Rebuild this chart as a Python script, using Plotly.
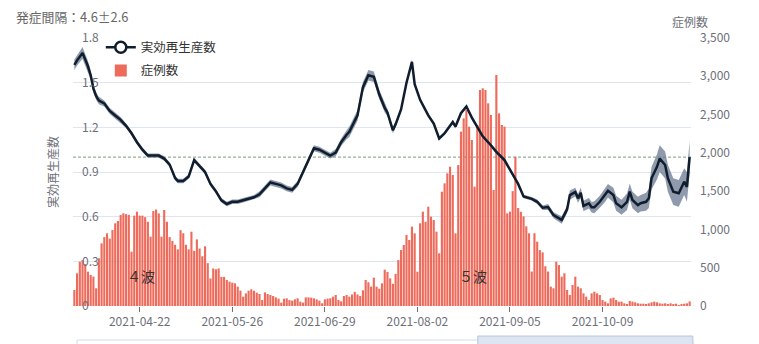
import pandas as pd
import plotly.graph_objects as go

start_date = "2021-03-29"
tick_dates = ["2021-04-22", "2021-05-26", "2021-06-29", "2021-08-02", "2021-09-05", "2021-10-09"]

cases = [
    209, 427, 579, 601, 548, 448, 405, 383, 231, 623, 818, 900, 949, 880, 992, 1080, 1110, 1188, 1210, 1200,
    1190, 709, 1180, 1232, 1180, 1180, 1160, 1100, 905, 1240, 1260, 1210, 905, 1254, 1100, 900, 850, 800, 740, 990,
    950, 800, 740, 970, 720, 870, 750, 650, 780, 560, 360, 490, 480, 490, 380, 380, 340,
    318, 305, 296, 253, 200, 122, 165, 200, 218, 200, 174, 157, 78, 178, 157, 144, 131, 113, 96, 44,
    96, 100, 78, 70, 87, 100, 57, 44, 113, 113, 109, 100, 87, 70, 35, 87, 96, 100, 122, 144,
    78, 61, 131, 144, 122, 150, 185, 150, 130, 205, 340, 310, 253, 370, 253, 225, 296, 475, 445, 361,
    290, 420, 600,
    731, 797, 927, 862, 1036, 949, 448, 1080, 1232, 1100, 1297, 1167, 1123, 971, 688, 1493, 1602, 1733, 1819, 1711,
    949, 1841, 2277, 2451, 2560, 2342, 2168, 1558, 2364, 2821, 2843, 2821, 2647, 2495, 1515, 3017, 2516, 2364, 2342, 1210,
    1232, 1500, 1950, 1280, 1230, 1170, 1040, 950, 450, 950, 840, 730, 700, 520, 450, 253,
    231, 579, 535, 383, 427, 209, 144, 274, 383, 253, 231, 165, 122, 78, 165, 187, 165, 144, 78, 57,
    35, 100, 109, 78, 57, 57, 35, 22, 65, 57, 48, 35, 30, 30, 22, 35, 48, 57, 48, 35,
    30, 35, 22, 35, 22, 30, 13, 22, 30, 35, 60,
]

rt_day = [0, 1, 3, 5, 6, 7, 8, 9, 11, 13, 15, 17, 19, 21, 23, 25, 27, 29, 31, 33,
          35, 37, 38, 40, 42, 44, 46, 48, 50, 52, 54, 56, 58, 60, 62, 64, 66, 68, 70, 72,
          74, 76, 78, 80, 82, 84, 86, 88, 90, 92, 94, 96, 98, 100, 101, 104, 106, 108, 110, 112,
          114, 115, 117, 118, 120, 122, 124, 125, 126, 127, 130, 132, 134, 136, 139, 140, 142, 144, 146, 148,
          150, 153, 155, 158, 160, 163, 165, 168, 170, 172, 174, 176, 179, 181, 182, 184, 185, 186, 187, 189,
          190, 191, 193, 195, 196, 198, 199, 201, 203, 204, 205, 207, 208, 210, 211, 212, 214, 215, 217, 218,
          220, 222, 224, 225, 226]
rt_value = [1.62, 1.65, 1.70, 1.61, 1.55, 1.46, 1.41, 1.38, 1.36, 1.31, 1.28, 1.25, 1.21, 1.16, 1.10, 1.05, 1.01, 1.01, 1.01, 0.99,
            0.95, 0.86, 0.84, 0.84, 0.87, 0.98, 0.94, 0.90, 0.82, 0.77, 0.71, 0.685, 0.70, 0.70, 0.71, 0.72, 0.73, 0.75, 0.79, 0.83,
            0.82, 0.81, 0.79, 0.78, 0.82, 0.90, 0.99, 1.06, 1.05, 1.03, 1.01, 1.03, 1.10, 1.15, 1.17, 1.28, 1.47, 1.55, 1.54, 1.42,
            1.33, 1.30, 1.18, 1.22, 1.32, 1.50, 1.64, 1.49, 1.44, 1.385, 1.28, 1.225, 1.125, 1.16, 1.235, 1.205, 1.295, 1.34, 1.265, 1.205,
            1.14, 1.08, 1.035, 0.98, 0.915, 0.82, 0.735, 0.72, 0.70, 0.66, 0.665, 0.61, 0.578, 0.65, 0.745, 0.765, 0.723, 0.761, 0.672, 0.69,
            0.663, 0.663, 0.70, 0.745, 0.774, 0.745, 0.69, 0.663, 0.70, 0.768, 0.712, 0.678, 0.69, 0.70, 0.723, 0.858, 0.935, 0.99, 0.947, 0.858,
            0.768, 0.757, 0.835, 0.80, 1.00]
rt_half = [0.035, 0.035, 0.04, 0.035, 0.03, 0.03, 0.025, 0.025, 0.02, 0.02, 0.02, 0.02, 0.015, 0.015, 0.015, 0.015, 0.015, 0.015, 0.015, 0.015,
           0.015, 0.015, 0.015, 0.015, 0.015, 0.015, 0.015, 0.015, 0.015, 0.015, 0.015, 0.015, 0.015, 0.015, 0.015, 0.015, 0.015, 0.02, 0.02, 0.02,
           0.02, 0.02, 0.02, 0.02, 0.02, 0.02, 0.02, 0.02, 0.02, 0.02, 0.02, 0.025, 0.025, 0.03, 0.035, 0.035, 0.035, 0.035, 0.035, 0.03,
           0.03, 0.025, 0.02, 0.02, 0.015, 0.015, 0.015, 0.015, 0.015, 0.012, 0.012, 0.012, 0.012, 0.012, 0.012, 0.012, 0.012, 0.012, 0.012, 0.012,
           0.012, 0.012, 0.012, 0.012, 0.012, 0.012, 0.012, 0.012, 0.015, 0.015, 0.02, 0.02, 0.025, 0.025, 0.03, 0.03, 0.03, 0.035, 0.035, 0.035,
           0.035, 0.04, 0.04, 0.045, 0.045, 0.05, 0.05, 0.05, 0.055, 0.055, 0.055, 0.055, 0.055, 0.06, 0.065, 0.075, 0.085, 0.09, 0.09, 0.09,
           0.09, 0.09, 0.09, 0.1, 0.11]

dates = pd.date_range(start_date, periods=len(cases), freq="D")
rt_dates = [pd.Timestamp(start_date) + pd.Timedelta(days=d) for d in rt_day]
rt_upper = [v + h for v, h in zip(rt_value, rt_half)]
rt_lower = [v - h for v, h in zip(rt_value, rt_half)]

FONT = "Noto Sans CJK JP"
GRAY = "#6e7079"
BAR = "#ee6b5b"
LINE = "#101d2c"
BAND = "rgba(105,122,145,0.75)"

fig = go.Figure()
fig.add_trace(go.Bar(x=dates, y=cases, name="症例数", marker=dict(color=BAR, line=dict(width=0)),
                     yaxis="y", legendrank=2, legendgroup="b"))
fig.add_trace(go.Scatter(x=rt_dates, y=rt_upper, mode="lines", line=dict(width=0, color=BAND),
                         yaxis="y2", showlegend=False, hoverinfo="skip"))
fig.add_trace(go.Scatter(x=rt_dates, y=rt_lower, mode="lines", line=dict(width=0, color=BAND),
                         fill="tonexty", fillcolor=BAND, yaxis="y2", showlegend=False, hoverinfo="skip"))
fig.add_trace(go.Scatter(x=rt_dates, y=rt_value, mode="lines", line=dict(width=2.5, color=LINE),
                         yaxis="y2", showlegend=False))
fig.add_trace(go.Scatter(x=[None], y=[None], mode="lines+markers", name="実効再生産数",
                         line=dict(width=2.5, color=LINE),
                         marker=dict(symbol="circle", size=11, color="white", line=dict(width=2.5, color=LINE)),
                         yaxis="y2", legendrank=1, legendgroup="a"))

x0 = pd.Timestamp(start_date) - pd.Timedelta(hours=12)
x1 = dates[-1] + pd.Timedelta(hours=12)

fig.update_layout(
    width=759, height=344,
    margin=dict(l=73, r=68, t=38, b=38),
    paper_bgcolor="white", plot_bgcolor="white",
    font=dict(family=FONT, size=12, color=GRAY),
    bargap=0.22,
    showlegend=True,
    legend=dict(x=0.045, y=1.02, xanchor="left", yanchor="top", bgcolor="rgba(0,0,0,0)",
                font=dict(size=12.5, color="#333333"), traceorder="grouped", tracegroupgap=4, itemwidth=30),
    xaxis=dict(type="date", range=[x0, x1], tickvals=tick_dates, ticktext=tick_dates,
               ticks="outside", ticklen=5, tickcolor=GRAY, showgrid=False, zeroline=False,
               showline=False, tickfont=dict(size=12, color=GRAY)),
    yaxis=dict(side="right", range=[0, 3500], dtick=500, tickformat=",", showgrid=False, zeroline=False,
               showline=False, tickfont=dict(size=12, color=GRAY), ticklabelstandoff=8),
    yaxis2=dict(side="left", overlaying="y", range=[0, 1.8], tickvals=[0, 0.3, 0.6, 0.9, 1.2, 1.5, 1.8],
                ticktext=["0", "0.3", "0.6", "0.9", "1.2", "1.5", "1.8"],
                showgrid=True, gridcolor="#e0e6f1", gridwidth=1, zeroline=False, showline=False,
                ticklabelposition="inside", ticklabeloverflow="allow", ticklabelstandoff=6,
                tickfont=dict(size=12, color=GRAY)),
    shapes=[
        dict(type="line", xref="paper", x0=0, x1=1, yref="y2", y0=1.0, y1=1.0,
             line=dict(color="#7a9e7a", width=1, dash="3px,2px"), layer="below"),
        dict(type="rect", xref="paper", x0=0.0065, x1=1.003, yref="paper", y0=-0.127, y1=-0.3,
             line=dict(color="#d2dbee", width=1), fillcolor="white", layer="above"),
        dict(type="rect", xref="paper", x0=0.655, x1=1.003, yref="paper", y0=-0.112, y1=-0.3,
             line=dict(color="#b9c5dc", width=1), fillcolor="#dde5f3", layer="above"),
    ],
    annotations=[
        dict(text="発症間隔：4.6±2.6", xref="paper", yref="paper", x=-0.0955, y=1.082,
             xanchor="left", yanchor="middle", showarrow=False, font=dict(size=12.8, color="#666666")),
        dict(text="症例数", xref="paper", yref="paper", x=0.998, y=1.06,
             xanchor="center", yanchor="middle", showarrow=False, font=dict(size=12, color=GRAY)),
        dict(text="実効再生産数", xref="paper", yref="paper", x=-0.034, y=0.5, textangle=-90,
             xanchor="center", yanchor="middle", showarrow=False, font=dict(size=12, color=GRAY)),
        dict(text="４波", xref="paper", yref="paper", x=(141 - 73) / 618, y=0.112,
             xanchor="center", yanchor="middle", showarrow=False, font=dict(size=14, color="#333333")),
        dict(text="５波", xref="paper", yref="paper", x=(473 - 73) / 618, y=0.112,
             xanchor="center", yanchor="middle", showarrow=False, font=dict(size=14, color="#333333")),
    ],
)

fig.write_html("out.html")
